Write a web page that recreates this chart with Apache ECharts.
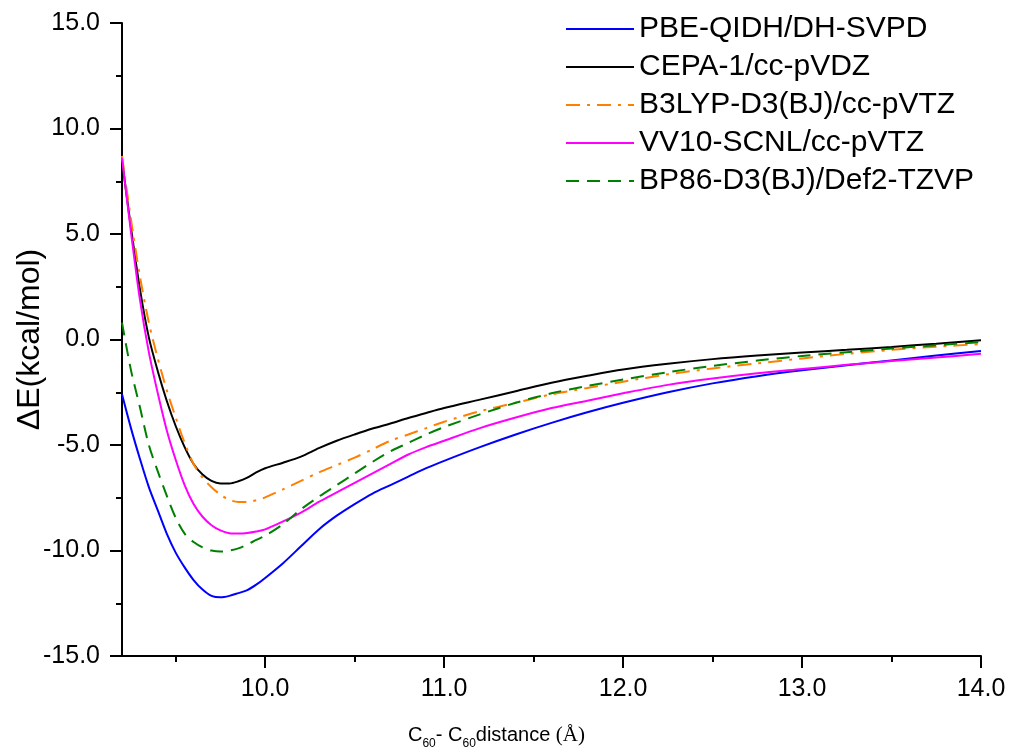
<!DOCTYPE html>
<html><head><meta charset="utf-8">
<script src="https://cdn.jsdelivr.net/npm/echarts@6/dist/echarts.min.js"></script>
<style>html,body{margin:0;padding:0;background:#fff}#c{width:1012px;height:756px}</style>
</head><body><div id="c"></div>
<script>
const distances = [9.2, 9.25, 9.3, 9.35, 9.4, 9.45, 9.5, 9.55, 9.6, 9.65, 9.7, 9.75, 9.8, 9.85, 9.9, 9.95, 10.0, 10.1, 10.2, 10.3, 10.4, 10.5, 10.6, 10.7, 10.8, 10.9, 11.0, 11.2, 11.4, 11.6, 11.8, 12.0, 12.25, 12.5, 12.75, 13.0, 13.25, 13.5, 13.75, 14.0];
const pbeQidh = [-2.6, -4.2, -5.65, -7.0, -8.1, -9.2, -10.1, -10.8, -11.4, -11.85, -12.15, -12.22, -12.15, -12.02, -11.88, -11.62, -11.3, -10.6, -9.8, -9.0, -8.35, -7.8, -7.3, -6.9, -6.5, -6.1, -5.75, -5.1, -4.5, -3.95, -3.45, -3.0, -2.5, -2.08, -1.74, -1.46, -1.22, -0.99, -0.76, -0.55];
const cepa1 = [8.5, 5.3, 2.4, 0.1, -1.5, -2.9, -4.1, -5.1, -5.9, -6.4, -6.7, -6.82, -6.82, -6.72, -6.55, -6.3, -6.1, -5.84, -5.55, -5.15, -4.8, -4.5, -4.22, -3.98, -3.72, -3.48, -3.25, -2.85, -2.45, -2.05, -1.72, -1.42, -1.15, -0.93, -0.76, -0.62, -0.49, -0.35, -0.2, -0.03];
const b3lyp = [8.7, 5.7, 3.0, 0.8, -0.9, -2.4, -3.7, -4.9, -5.9, -6.55, -7.0, -7.35, -7.6, -7.7, -7.7, -7.62, -7.48, -7.1, -6.7, -6.3, -5.95, -5.6, -5.2, -4.8, -4.5, -4.2, -3.9, -3.4, -3.0, -2.6, -2.3, -2.0, -1.65, -1.37, -1.13, -0.9, -0.68, -0.49, -0.34, -0.22];
const vv10 = [8.6, 5.1, 1.9, -0.6, -2.55, -4.3, -5.7, -6.9, -7.8, -8.4, -8.8, -9.05, -9.18, -9.2, -9.17, -9.1, -9.0, -8.62, -8.2, -7.7, -7.25, -6.8, -6.35, -5.9, -5.45, -5.1, -4.8, -4.2, -3.7, -3.25, -2.9, -2.55, -2.15, -1.85, -1.6, -1.4, -1.2, -1.02, -0.85, -0.68];
const bp86 = [0.8, -1.45, -3.2, -5.0, -6.25, -7.4, -8.45, -9.2, -9.6, -9.85, -10.0, -10.05, -10.0, -9.9, -9.72, -9.5, -9.3, -8.75, -8.05, -7.45, -6.9, -6.35, -5.8, -5.3, -4.9, -4.5, -4.15, -3.55, -3.0, -2.55, -2.2, -1.9, -1.55, -1.25, -1.0, -0.78, -0.6, -0.43, -0.27, -0.12];
const seriesNames = ['PBE-QIDH/DH-SVPD', 'CEPA-1/cc-pVDZ', 'B3LYP-D3(BJ)/cc-pVTZ', 'VV10-SCNL/cc-pVTZ', 'BP86-D3(BJ)/Def2-TZVP'];
const xMajorTicks = [10, 11, 12, 13, 14];
const xMinorTicks = [9.5, 10.5, 11.5, 12.5, 13.5];

const font = "'Liberation Sans', Arial, sans-serif";
function pairs(ys) { return distances.map((x, i) => [x, ys[i]]); }
function mk(name, ys, color, type) {
  return {
    name: name, type: 'line', data: pairs(ys), symbol: 'none', smooth: 0.3,
    xAxisIndex: 0, yAxisIndex: 0,
    itemStyle: { color: color },
    lineStyle: { color: color, width: 2, type: type }
  };
}
const chart = echarts.init(document.getElementById('c'), null, { renderer: 'canvas' });
const gridBox = { left: 122, right: 31, top: 23, bottom: 100, containLabel: false, outerBoundsMode: 'none' };
chart.setOption({
  animation: false,
  backgroundColor: '#fff',
  grid: [Object.assign({}, gridBox), Object.assign({}, gridBox)],
  legend: {
    orient: 'vertical', left: 565, top: 14, padding: 0,
    itemWidth: 68, itemHeight: 14, itemGap: 8,
    data: seriesNames,
    itemStyle: { color: 'rgba(0,0,0,0)', borderWidth: 0, opacity: 0 },
    textStyle: { fontSize: 30, color: '#000', fontFamily: font, lineHeight: 30 }
  },
  xAxis: [{
    type: 'value', gridIndex: 0, min: 9.2, max: 14,
    axisLine: { show: true, onZero: false, lineStyle: { color: '#000', width: 2 } },
    axisTick: { show: true, customValues: xMajorTicks, length: 12, lineStyle: { color: '#000', width: 2 } },
    axisLabel: { customValues: xMajorTicks, formatter: v => v.toFixed(1), fontSize: 25, color: '#000', margin: 21, fontFamily: font },
    splitLine: { show: false },
    name: '{a|C}{s|60}{a|- C}{s|60}{a|distance }{b|(Å)}',
    nameLocation: 'middle', nameGap: 64, nameMoveOverlap: false,
    nameTextStyle: {
      padding: [0, 110, 0, 0],
      rich: {
        a: { fontSize: 20, fontFamily: font, lineHeight: 30, color: '#000' },
        s: { fontSize: 12, fontFamily: font, lineHeight: 12, verticalAlign: 'bottom', color: '#000' },
        b: { fontSize: 21, fontFamily: "'Liberation Serif', serif", lineHeight: 30, color: '#000' }
      }
    }
  }, {
    type: 'value', gridIndex: 1, min: 9.2, max: 14, position: 'bottom',
    axisLine: { show: false, onZero: false },
    axisTick: { show: true, customValues: xMinorTicks, length: 6, lineStyle: { color: '#000', width: 2 } },
    axisLabel: { show: false },
    splitLine: { show: false }
  }],
  yAxis: [{
    type: 'value', gridIndex: 0, min: -15, max: 15, interval: 5,
    axisLine: { show: true, onZero: false, lineStyle: { color: '#000', width: 2 } },
    axisTick: { show: true, length: 12, lineStyle: { color: '#000', width: 2 } },
    minorTick: { show: true, splitNumber: 2, length: 6, lineStyle: { color: '#000', width: 2 } },
    axisLabel: { formatter: v => v.toFixed(1), fontSize: 25, color: '#000', margin: 22, fontFamily: font },
    splitLine: { show: false },
    name: 'ΔE(kcal/mol)', nameLocation: 'middle', nameGap: 76, nameMoveOverlap: false,
    nameTextStyle: { fontSize: 32, color: '#000', fontFamily: font }
  }, {
    type: 'value', gridIndex: 1, min: -15, max: 15,
    axisLine: { show: false, onZero: false }, axisTick: { show: false },
    axisLabel: { show: false }, splitLine: { show: false }
  }],
  series: [
    mk(seriesNames[0], pbeQidh, '#0000FF', 'solid'),
    mk(seriesNames[1], cepa1, '#000000', 'solid'),
    mk(seriesNames[2], b3lyp, '#FF8000', [14, 7, 3, 7]),
    mk(seriesNames[3], vv10, '#FF00FF', 'solid'),
    mk(seriesNames[4], bp86, '#008000', [13, 8])
  ]
});
</script>
</body></html>
